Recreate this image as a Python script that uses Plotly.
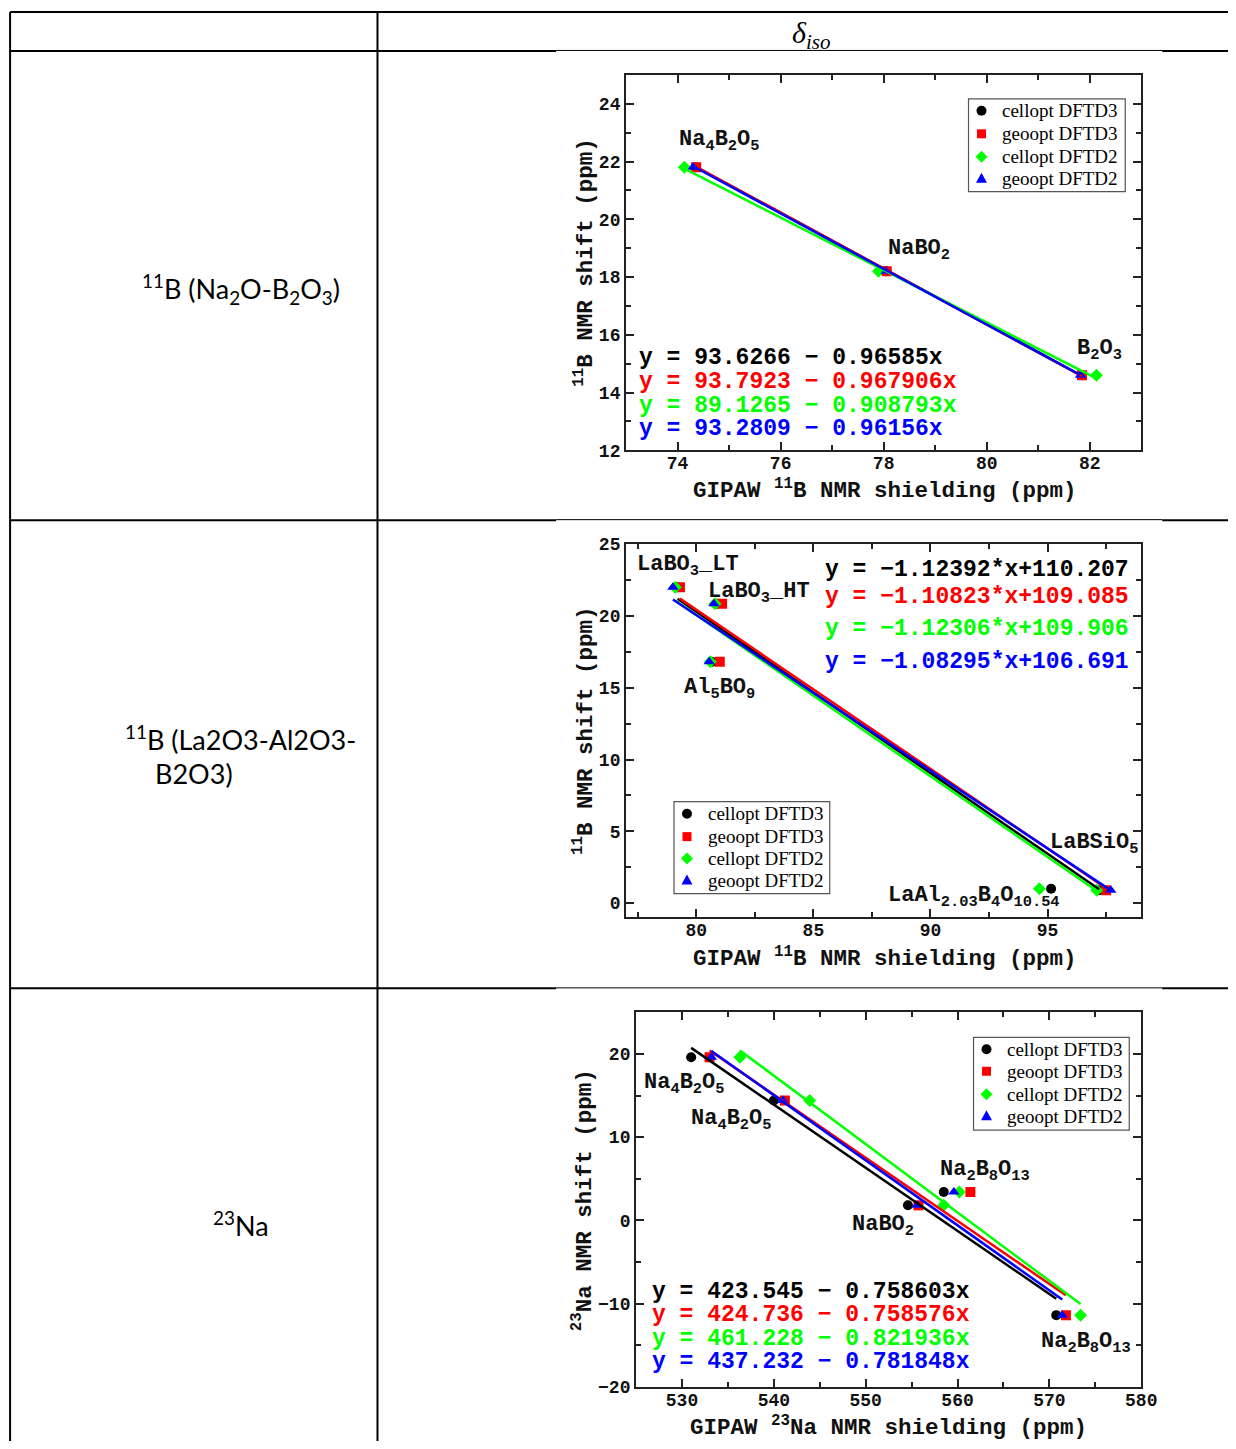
import plotly.graph_objects as go

# page is 1236x1449 with the browser's default 8px body margin around the figure
OFF = 8
W, H = 1236 - 2 * OFF, 1449 - 2 * OFF

# ------------------------------------------------------------------ data
series_names = ["cellopt DFTD3", "geoopt DFTD3", "cellopt DFTD2", "geoopt DFTD2"]
series_colors = ["#000000", "#ff0000", "#00ff00", "#0000ff"]
series_symbols = ["circle", "square", "diamond", "triangle-up"]

# Panel 1: 11B (Na2O-B2O3)
b1_labels = ["Na<sub>4</sub>B<sub>2</sub>O<sub>5</sub>", "NaBO<sub>2</sub>", "B<sub>2</sub>O<sub>3</sub>"]
b1_shift = [21.8, 18.2, 14.6]
b1_cellopt_d3 = [74.35, 78.05, 81.85]
b1_geoopt_d3 = [74.36, 78.06, 81.85]
b1_cellopt_d2 = [74.13, 77.90, 82.13]
b1_geoopt_d2 = [74.30, 78.05, 81.82]
b1_intercept = [93.6266, 93.7923, 89.1265, 93.2809]
b1_slope = [-0.96585, -0.967906, -0.908793, -0.96156]

# Panel 2: 11B (La2O3-Al2O3-B2O3)
b2_labels = ["LaBO<sub>3</sub>_LT", "LaBO<sub>3</sub>_HT", "Al<sub>5</sub>BO<sub>9</sub>",
             "LaAl<sub>2.03</sub>B<sub>4</sub>O<sub>10.54</sub>", "LaBSiO<sub>5</sub>"]
b2_shift = [22.0, 20.85, 16.8, 1.0, 0.9]
b2_cellopt_d3 = [79.20, 80.85, 80.65, 95.15, 97.20]
b2_geoopt_d3 = [79.30, 81.10, 81.00, None, 97.50]
b2_cellopt_d2 = [79.10, 80.80, 80.60, 94.65, 97.10]
b2_geoopt_d2 = [79.00, 80.75, 80.55, None, 97.70]
b2_intercept = [110.207, 109.085, 109.906, 106.691]
b2_slope = [-1.12392, -1.10823, -1.12306, -1.08295]

# Panel 3: 23Na
na_labels = ["Na<sub>4</sub>B<sub>2</sub>O<sub>5</sub>", "Na<sub>4</sub>B<sub>2</sub>O<sub>5</sub>", "NaBO<sub>2</sub>",
             "Na<sub>2</sub>B<sub>8</sub>O<sub>13</sub>", "Na<sub>2</sub>B<sub>8</sub>O<sub>13</sub>"]
na_shift = [19.6, 14.4, 1.8, 3.4, -11.4]
na_cellopt_d3 = [531.0, 540.0, 554.6, 558.5, 570.75]
na_geoopt_d3 = [533.0, 541.2, 555.75, 561.4, 571.8]
na_cellopt_d2 = [536.3, 543.9, 558.5, 560.2, 573.4]
na_geoopt_d2 = [533.2, 541.0, 555.6, 559.6, 571.4]
na_intercept = [423.545, 424.736, 461.228, 437.232]
na_slope = [-0.758603, -0.758576, -0.821936, -0.781848]

# table text
row_titles = ["<sup>11</sup>B (Na<sub>2</sub>O-B<sub>2</sub>O<sub>3</sub>)",
              "<sup>11</sup>B (La2O3-Al2O3-", "B2O3)", "<sup>23</sup>Na"]
header_text = "<i>δ</i><sub><i>iso</i></sub>"

# ------------------------------------------------------------------ helpers
SX, SY, DY = 0.9885, 0.9877, 7.1   # screen calibration


def px(x):
    return (x / SX - OFF) / W


def py(y):
    return 1 - ((y - DY) / SY - OFF) / H


MONO = "Liberation Mono"
SERIF = "Liberation Serif"
FRAME = "#222222"

fig = go.Figure()

panels = [
    dict(ax="", shift=b1_shift, xs=[b1_cellopt_d3, b1_geoopt_d3, b1_cellopt_d2, b1_geoopt_d2],
         a=b1_intercept, b=b1_slope),
    dict(ax="2", shift=b2_shift, xs=[b2_cellopt_d3, b2_geoopt_d3, b2_cellopt_d2, b2_geoopt_d2],
         a=b2_intercept, b=b2_slope),
    dict(ax="3", shift=na_shift, xs=[na_cellopt_d3, na_geoopt_d3, na_cellopt_d2, na_geoopt_d2],
         a=na_intercept, b=na_slope),
]

for p in panels:
    xa, ya = "x" + p["ax"], "y" + p["ax"]
    for i in range(4):
        fig.add_trace(go.Scatter(
            x=p["xs"][i], y=p["shift"], mode="markers", name=series_names[i],
            marker=dict(symbol=series_symbols[i], color=series_colors[i], size=10, line=dict(width=0)),
            xaxis=xa, yaxis=ya, showlegend=False, hoverinfo="skip"))
    for i in range(4):
        vals = [v for v in p["xs"][i] if v is not None]
        x0, x1 = min(vals), max(vals)
        fig.add_trace(go.Scatter(
            x=[x0, x1], y=[p["a"][i] + p["b"][i] * x0, p["a"][i] + p["b"][i] * x1],
            mode="lines", name=series_names[i] + " fit", line=dict(color=series_colors[i], width=2.5),
            xaxis=xa, yaxis=ya, showlegend=False, hoverinfo="skip"))


def axis(rng, dtick, minor, domain, anchor, standoff=0):
    return dict(range=rng, dtick=dtick, tick0=0, domain=domain, anchor=anchor,
                ticks="inside", ticklen=8, tickwidth=2, tickcolor=FRAME,
                showline=True, linewidth=2, linecolor=FRAME, mirror="allticks",
                showgrid=False, zeroline=False, fixedrange=True, ticklabelstandoff=standoff,
                tickfont=dict(family=MONO, size=18, color="#111", weight="bold"),
                minor=dict(ticks="inside", ticklen=5, tickwidth=1.5, dtick=minor,
                           tickcolor=FRAME, showgrid=False))


dom_x12 = [px(627), px(1143)]
dom_x3 = [px(637), px(1143)]
fig.update_layout(
    xaxis=axis([73, 83], 2, 1, dom_x12, "y", -5),
    yaxis=axis([12, 25], 2, 1, [py(449), py(73)], "x"),
    xaxis2=axis([77, 99], 5, 2.5, dom_x12, "y2", -5),
    yaxis2=axis([-1, 25], 5, 2.5, [py(917), py(543)], "x2"),
    xaxis3=axis([525, 580], 10, 5, dom_x3, "y3", -4),
    yaxis3=axis([-20, 25], 10, 5, [py(1387), py(1012)], "x3"),
)

ann = []
shapes = []
LBL = dict(family=MONO, size=22, color="#111", weight="bold")

# compound labels (data coords)
b1_lpos = [(73.99, 22.7), (78.04, 18.95), (81.72, 15.46)]
b2_lpos = [(77.38, 23.48), (80.41, 21.6), (79.39, 14.9), (88.09, 0.46), (95.0, 4.15)]
na_lpos = [(525.65, 16.37), (530.76, 12.05), (548.26, -0.67), (557.9, 5.93), (568.9, -14.7)]
for labels, pos, ax in [(b1_labels, b1_lpos, ""), (b2_labels, b2_lpos, "2"), (na_labels, na_lpos, "3")]:
    for t, (x, y) in zip(labels, pos):
        ann.append(dict(text=t, x=x, y=y, xref="x" + ax, yref="y" + ax, xanchor="left",
                        yanchor="middle", showarrow=False, font=LBL))

# fit equations
EQ = dict(family=MONO, size=23, weight="bold")


def eq_std(a, b):
    return f"y = {a:g} − {abs(b):g}x"


def eq_la(a, b):
    return f"y = −{abs(b):g}*x+{a:g}"


for i, yy in enumerate([357, 381, 405, 428]):
    ann.append(dict(text=eq_std(b1_intercept[i], b1_slope[i]), x=px(638), y=py(yy), xref="paper", yref="paper",
                    xanchor="left", yanchor="middle", showarrow=False, font=dict(color=series_colors[i], **EQ)))
for i, yy in enumerate([569, 596, 628, 661]):
    ann.append(dict(text=eq_la(b2_intercept[i], b2_slope[i]), x=px(1133), y=py(yy), xref="paper", yref="paper",
                    xanchor="right", yanchor="middle", showarrow=False, font=dict(color=series_colors[i], **EQ)))
for i, yy in enumerate([1292, 1315, 1339, 1362]):
    ann.append(dict(text=eq_std(na_intercept[i], na_slope[i]), x=px(651), y=py(yy), xref="paper", yref="paper",
                    xanchor="left", yanchor="middle", showarrow=False, font=dict(color=series_colors[i], **EQ)))

# axis titles
TT = dict(family=MONO, size=22.5, color="#111", weight="bold")
for text, x, y, ang in [
    ("GIPAW <sup>11</sup>B NMR shielding (ppm)", 886, 488, 0),
    ("<sup>11</sup>B NMR shift (ppm)", 585, 261, -90),
    ("GIPAW <sup>11</sup>B NMR shielding (ppm)", 886, 957, 0),
    ("<sup>11</sup>B NMR shift (ppm)", 585, 730, -90),
    ("GIPAW <sup>23</sup>Na NMR shielding (ppm)", 890, 1427, 0),
    ("<sup>23</sup>Na NMR shift (ppm)", 583, 1200, -90),
]:
    ann.append(dict(text=text, x=px(x), y=py(y), xref="paper", yref="paper", textangle=ang,
                    xanchor="center", yanchor="middle", showarrow=False, font=TT))

# legends (box, key glyph, label) for each panel
legend_boxes = [(970, 97, 1127, 190, [109, 132, 155, 177]),
                (675, 801, 831, 893, [813, 836, 858, 880]),
                (975, 1037, 1131, 1130, [1049, 1071, 1094, 1116])]


def key_shape(sym, cx, cy):
    if sym == "circle":
        return dict(type="circle", x0=px(cx - 5), x1=px(cx + 5), y0=py(cy + 5), y1=py(cy - 5))
    if sym == "square":
        return dict(type="rect", x0=px(cx - 4.5), x1=px(cx + 4.5), y0=py(cy + 4.5), y1=py(cy - 4.5))
    if sym == "diamond":
        pts = [(cx, cy - 6), (cx + 6, cy), (cx, cy + 6), (cx - 6, cy)]
    else:
        pts = [(cx, cy - 6), (cx + 5.5, cy + 4), (cx - 5.5, cy + 4)]
    path = "M " + " L ".join(f"{px(a)},{py(b)}" for a, b in pts) + " Z"
    return dict(type="path", path=path)


for x0, y0, x1, y1, rows in legend_boxes:
    shapes.append(dict(type="rect", xref="paper", yref="paper", x0=px(x0), x1=px(x1), y0=py(y1), y1=py(y0),
                       line=dict(color="#555", width=1.2), fillcolor="white", layer="above"))
    for i, ry in enumerate(rows):
        s = key_shape(series_symbols[i], x0 + 13, ry)
        s.update(xref="paper", yref="paper", fillcolor=series_colors[i], line=dict(width=0), layer="above")
        shapes.append(s)
        ann.append(dict(text=series_names[i], x=px(x0 + 32), y=py(ry), xref="paper", yref="paper",
                        xanchor="left", yanchor="middle", showarrow=False,
                        font=dict(family=SERIF, size=19, color="black")))

# table texts
TXT = dict(family="Lato", size=27, color="black")
ann.append(dict(text=header_text, x=px(812), y=py(33), xref="paper", yref="paper", showarrow=False,
                xanchor="center", yanchor="middle", font=dict(family=SERIF, size=30, color="black")))
ann.append(dict(text=row_titles[0], x=px(241), y=py(287), xref="paper", yref="paper", showarrow=False,
                xanchor="center", yanchor="middle", font=TXT))
ann.append(dict(text=row_titles[1], x=px(241), y=py(737), xref="paper", yref="paper", showarrow=False,
                xanchor="center", yanchor="middle", font=TXT))
ann.append(dict(text=row_titles[2], x=px(153), y=py(773), xref="paper", yref="paper", showarrow=False,
                xanchor="left", yanchor="middle", font=TXT))
ann.append(dict(text=row_titles[3], x=px(241), y=py(1224), xref="paper", yref="paper", showarrow=False,
                xanchor="center", yanchor="middle", font=TXT))


# table lines
def hline(y, x0, x1, w):
    shapes.append(dict(type="line", xref="paper", yref="paper", x0=px(x0), x1=px(x1), y0=py(y), y1=py(y),
                       line=dict(color="black", width=w), layer="below"))


def vline(x, y0, y1, w):
    shapes.append(dict(type="line", xref="paper", yref="paper", x0=px(x), x1=px(x), y0=py(y0), y1=py(y1),
                       line=dict(color="black", width=w), layer="below"))


hline(10, 10, 1260, 2)
vline(10, 10, 1480, 2)
vline(378, 10, 1480, 2)
for yy in [49, 519, 988]:
    hline(yy, 10, 557, 2)
    hline(yy - 0.5, 557, 1164, 1)
    hline(yy, 1164, 1260, 2)

fig.update_layout(
    width=W, height=H, margin=dict(l=0, r=0, t=0, b=0),
    paper_bgcolor="white", plot_bgcolor="white", showlegend=False,
    annotations=ann, shapes=shapes,
)

fig.write_html("out.html", config={"displayModeBar": False})
